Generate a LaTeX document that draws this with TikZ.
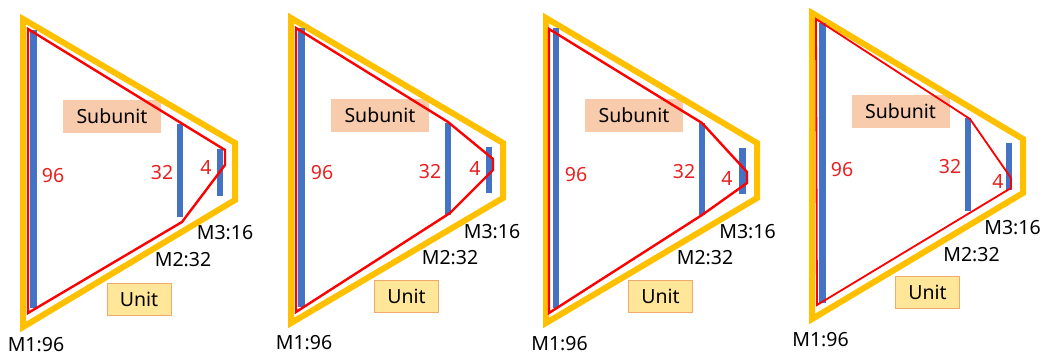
\documentclass[tikz,border=0pt]{standalone}
\usepackage{fontspec}
\setmainfont{Noto Sans}

\definecolor{frameorange}{RGB}{255,192,0}
\definecolor{barblue}{RGB}{68,114,196}
\definecolor{routered}{RGB}{255,0,0}
\definecolor{numred}{RGB}{232,32,32}
\definecolor{subfill}{RGB}{248,203,173}
\definecolor{unitfill}{RGB}{255,230,153}
\definecolor{unitline}{RGB}{240,170,110}

\tikzset{
  frame/.style={draw=frameorange, line width=6pt},
  bar/.style={fill=barblue},
  route/.style={draw=routered, line width=2.4pt},
  lbl/.style={font=\fontsize{19.5}{22}\selectfont, inner sep=0pt},
  num/.style={lbl, text=numred},
  subbox/.style={lbl, fill=subfill, minimum width=98pt, minimum height=33pt},
  unitbox/.style={lbl, fill=unitfill, draw=unitline, line width=1pt, minimum width=64pt, minimum height=32pt},
}

\begin{document}
\begin{tikzpicture}[x=1pt, y=-1pt]
\useasboundingbox (0,0) rectangle (1045,356);

% panel 1
\node[subbox] (sub1) at (112,116.5) {Subunit};
\node[unitbox] (unit1) at (139,299) {Unit};
\draw[frame] (23,19) -- (235,143) -- (235,200) -- (23,327) -- cycle;
\fill[bar] (30,30) rectangle (37,308);
\fill[bar] (177,124) rectangle (183,217);
\fill[bar] (217,149) rectangle (223,196);
\draw[route] (28,29) -- (225,150) -- (225,165) -- (182,222) -- (28,313) -- cycle;
	\node[num] (n96a) at (53,176) {96};
	\node[num] (n32a) at (162,173) {32};
	\node[num] (n4a) at (206,167) {4};
	\node[lbl] (m1a) at (36,345) {M1:96};
	\node[lbl] (m2a) at (183,260) {M2:32};
	\node[lbl] (m3a) at (225,233) {M3:16};

% panel 2
\node[subbox] (sub2) at (380,115) {Subunit};
\node[unitbox] (unit2) at (406.5,296.5) {Unit};
\draw[frame] (291,18) -- (503,143) -- (503,198) -- (291,323) -- cycle;
\fill[bar] (298,28) rectangle (305,307);
\fill[bar] (445,123) rectangle (451,215);
\fill[bar] (486,147) rectangle (492,193);
\draw[route] (296,28) -- (448,122) -- (493,159) -- (493,170) -- (450,213) -- (296,312) -- cycle;
	\node[num] (n96b) at (322,173) {96};
	\node[num] (n32b) at (430,172) {32};
	\node[num] (n4b) at (475,168) {4};
	\node[lbl] (m1b) at (304,343) {M1:96};
	\node[lbl] (m2b) at (450,258) {M2:32};
	\node[lbl] (m3b) at (492,232) {M3:16};

% panel 3
\node[subbox] (sub3) at (634,115.5) {Subunit};
\node[unitbox] (unit3) at (660.5,296.5) {Unit};
\draw[frame] (546,18) -- (757,143) -- (757,198) -- (546,323) -- cycle;
\fill[bar] (553,28) rectangle (559,308);
\fill[bar] (699,123) rectangle (705,215);
\fill[bar] (739,148) rectangle (746,194);
\draw[route] (549,29) -- (702,123) -- (747,172) -- (747,183) -- (702,215) -- (549,313) -- cycle;
	\node[num] (n96c) at (576,175) {96};
	\node[num] (n32c) at (684,172) {32};
	\node[num] (n4c) at (727,178) {4};
	\node[lbl] (m1c) at (559.5,344) {M1:96};
	\node[lbl] (m2c) at (705,258) {M2:32};
	\node[lbl] (m3c) at (747.5,232) {M3:16};

% panel 4
\node[subbox] (sub4) at (900.5,111) {Subunit};
\node[unitbox] (unit4) at (927.5,292.5) {Unit};
\draw[frame] (812,13) -- (1023,139) -- (1023,193) -- (812,319) -- cycle;
\fill[bar] (819,23) rectangle (826,303);
\fill[bar] (965,118) rectangle (971,211);
\fill[bar] (1006,143) rectangle (1012,190);
\draw[route, line width=1.8pt] (816,19) -- (970,119) -- (1011,178) -- (1011,188) -- (817,305) -- cycle;
	\node[num] (n96d) at (842,170) {96};
	\node[num] (n32d) at (950,167) {32};
	\node[num] (n4d) at (998,181) {4};
	\node[lbl] (m1d) at (820.5,340) {M1:96};
	\node[lbl] (m2d) at (971.5,255) {M2:32};
	\node[lbl] (m3d) at (1012.5,228) {M3:16};
\end{tikzpicture}
\end{document}
